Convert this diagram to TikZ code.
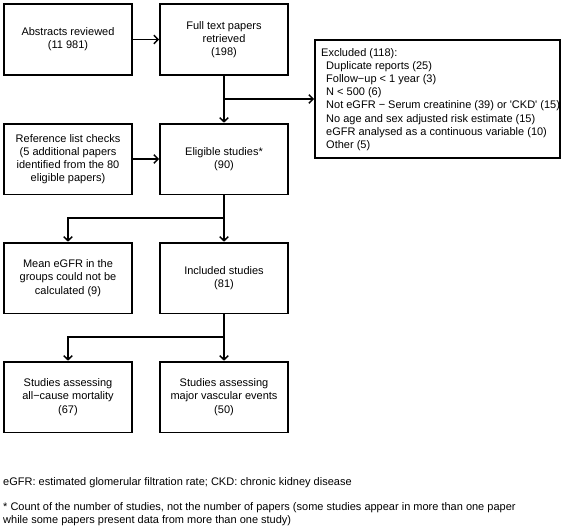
\documentclass[tikz,border=0pt]{standalone}
\usepackage{fontspec}
\setmainfont{Liberation Sans}
\usetikzlibrary{arrows.meta}
\begin{document}
\begin{tikzpicture}[x=1pt,y=-1pt,
  every node/.style={font=\fontsize{11}{13.2}\selectfont},
  box/.style={draw,line width=1.8pt,minimum width=128.2pt,minimum height=70.8pt,align=center,inner sep=2pt},
  conn/.style={line width=1.6pt},
  arr/.style={conn,-{Straight Barb[length=4pt,width=8.5pt,line width=1.5pt]}},
  note/.style={anchor=west,inner sep=0pt,align=left}]
\useasboundingbox (0,0) rectangle (567,530);
% boxes
\node[box] (abs) at (68,39.5) {Abstracts reviewed\\(11 981)};
\node[box] (full) at (224,39.5) {Full text papers\\retrieved\\(198)};
\node[box] (ref) at (68,159) {Reference list checks\\(5 additional papers\\identified from the 80\\eligible papers)};
\node[box] (elig) at (224,159) {Eligible studies*\\(90)};
\node[box] (mean) at (68,278) {Mean eGFR in the\\groups could not be\\calculated (9)};
\node[box] (incl) at (224,278) {Included studies\\(81)};
\node[box] (mort) at (68,397) {Studies assessing\\all\textminus cause mortality\\(67)};
\node[box] (vasc) at (224,397) {Studies assessing\\major vascular events\\(50)};
% excluded box
\node[draw,line width=1.8pt,minimum width=245.2pt,minimum height=118.2pt,inner sep=0pt] (excl) at (437.5,99) {};
\node[note] (excltext) at (321,99.5) {Excluded (118):\\
\hspace{5pt}Duplicate reports (25)\\
\hspace{5pt}Follow\textminus up < 1 year (3)\\
\hspace{5pt}N < 500 (6)\\
\hspace{5pt}Not eGFR \textminus\ Serum creatinine (39) or \textquotesingle CKD\textquotesingle\ (15)\\
\hspace{5pt}No age and sex adjusted risk estimate (15)\\
\hspace{5pt}eGFR analysed as a continuous variable (10)\\
\hspace{5pt}Other (5)};
% connectors
\coordinate (j1) at (224,99);
\coordinate (j2) at (224,218);
\coordinate (j3) at (224,337);
\draw[arr] (abs) -- (full);
\draw[arr] (ref) -- (elig);
\draw[arr] (full) -- (elig);
\draw[arr] (j1) -- (excl.west |- j1);
\draw[arr] (elig) -- (incl);
\draw[arr] (j2) -| (mean);
\draw[arr] (incl) -- (vasc);
\draw[arr] (j3) -| (mort);
% footnotes
\node[note] (fn1) at (3,483) {eGFR: estimated glomerular filtration rate; CKD: chronic kidney disease};
\node[note] (fn2) at (3,514.5) {* Count of the number of studies, not the number of papers (some studies appear in more than one paper\\while some papers present data from more than one study)};
\end{tikzpicture}
\end{document}
